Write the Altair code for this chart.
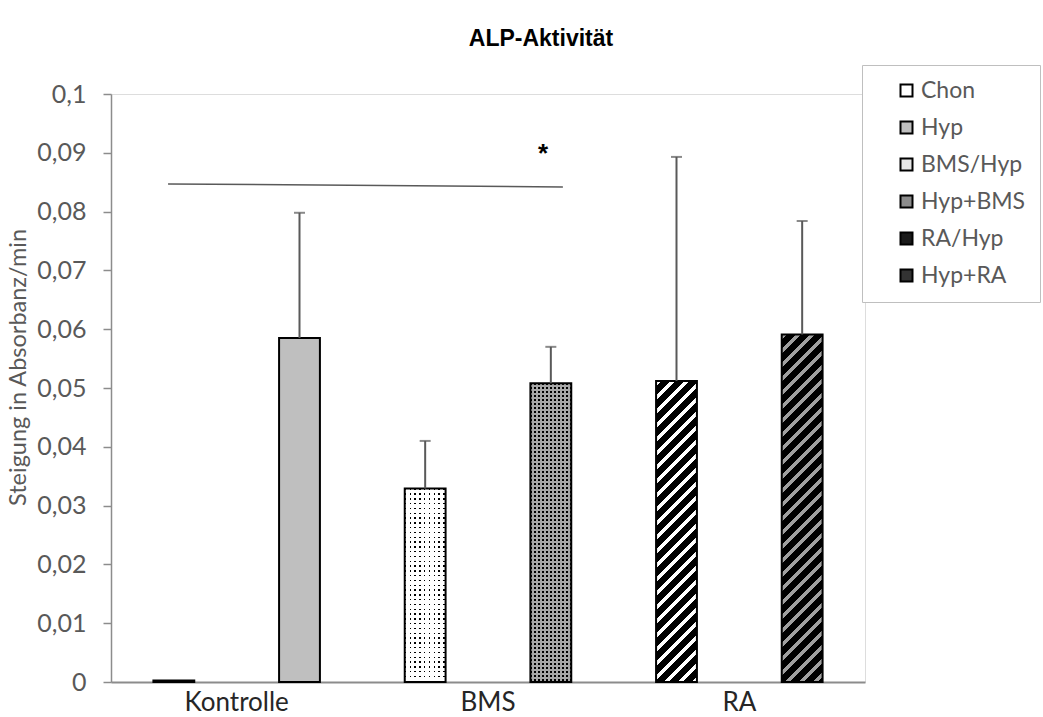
import altair as alt
import pandas as pd

# ---------------- data ----------------
categories = ["Kontrolle", "Kontrolle", "BMS", "BMS", "RA", "RA"]
series = ["Chon", "Hyp", "BMS/Hyp", "Hyp+BMS", "RA/Hyp", "Hyp+RA"]
slots = ["1", "2", "1", "2", "1", "2"]
means = [0.00025, 0.0585, 0.0329, 0.0508, 0.0512, 0.0591]
errors = [0.0, 0.0213, 0.0081, 0.0062, 0.0381, 0.0193]
cat_order = ["Kontrolle", "BMS", "RA"]
y_ticks = [0, 0.01, 0.02, 0.03, 0.04, 0.05, 0.06, 0.07, 0.08, 0.09, 0.1]
sig_x = [0.227, 1.798]
sig_y = [0.0847, 0.0842]
star_x = [1.719]
star_y = [0.0885]

df = pd.DataFrame({"cat": categories, "series": series, "slot": slots,
                   "mean": means, "err": errors})
df["top"] = df["mean"] + df["err"]
sig_df = pd.DataFrame({"x": sig_x, "y": sig_y})
star_df = pd.DataFrame({"x": star_x, "y": star_y, "t": ["*"]})

# ---------------- layout ----------------
PLOT_W, PLOT_H, Y_MAX = 754, 588, 0.1
P_IN, P_OUT = 0.675, 0.3375
band = PLOT_W / 3
step = band / (2 - P_IN + 2 * P_OUT)
BAR_W = step * (1 - P_IN)

FONT = "Lato"
GRAY_TXT = "#595959"
AXIS_GRAY = "#8c8c8c"
CLEAR = "rgba(255,255,255,0)"


def bar_h(s):
    return means[series.index(s)] / Y_MAX * PLOT_H


def stripe_stops(length, period, duty, c_on, c_off):
    stops = []
    pos = 0.0
    while pos < length:
        a = pos / length
        b = min((pos + duty * period) / length, 1.0)
        c = min((pos + period) / length, 1.0)
        stops += [{"offset": round(a, 5), "color": c_on},
                  {"offset": round(b, 5), "color": c_on},
                  {"offset": round(b, 5), "color": c_off},
                  {"offset": round(c, 5), "color": c_off}]
        pos += period
    return stops


def rows_grad(h, period, dot, bg):
    return {"gradient": "linear", "x1": 0, "y1": 0, "x2": 0, "y2": 1,
            "stops": stripe_stops(h, period, dot / period, CLEAR, bg)}


def cols_grad(w, period, dot, bg):
    return {"gradient": "linear", "x1": 0, "y1": 0, "x2": 1, "y2": 0,
            "stops": stripe_stops(w, period, dot / period, CLEAR, bg)}


def diag_grad(w, h, period, duty, c_on, c_off):
    c = (w + h) * w * h / (w * w + h * h)
    return {"gradient": "linear", "x1": 0, "y1": 0,
            "x2": round(c / h, 5), "y2": round(c / w, 5),
            "stops": stripe_stops(w + h, period, duty, c_on, c_off)}


# ---------------- encodings ----------------
x_enc = alt.X("cat:N", sort=cat_order, title=None,
              scale=alt.Scale(paddingInner=0, paddingOuter=0),
              axis=alt.Axis(labelFont=FONT, labelFontSize=26, labelColor="#262626",
                            labelPadding=7, ticks=False, domainColor=AXIS_GRAY,
                            domainWidth=2, labelAngle=0))
xoff = alt.XOffset("slot:N", scale=alt.Scale(paddingInner=P_IN, paddingOuter=P_OUT))
y_scale = alt.Scale(domain=[0, Y_MAX], nice=False, zero=True)
y_axis = alt.Axis(values=y_ticks, grid=False, labelFont=FONT, labelFontSize=25,
                  labelColor=GRAY_TXT, labelPadding=17, tickSize=8, tickColor=AXIS_GRAY,
                  tickWidth=1.5, domainColor=AXIS_GRAY, domainWidth=1.5,
                  labelExpr="replace(format(datum.value, '.2~f'), '.', ',')",
                  titleFont=FONT, titleFontSize=23.5, titleFontWeight="normal",
                  titleColor=GRAY_TXT, titleX=-93, titleY=273, titleAngle=270,
                  titleBaseline="middle", titleAlign="center")
Y_TITLE = "Steigung in Absorbanz/min"


def y_of(field):
    return alt.Y(f"{field}:Q", scale=y_scale, axis=y_axis, title=Y_TITLE)


legend_colors = ["#ffffff", "#bfbfbf", "#e6e6e6", "#8c8c8c", "#1a1a1a", "#333333"]

base = alt.Chart(df).mark_bar(strokeWidth=0).encode(
    x=x_enc, xOffset=xoff, y=y_of("mean"),
    color=alt.Color("series:N",
                    scale=alt.Scale(domain=series, range=legend_colors),
                    legend=alt.Legend(orient="none", legendX=751, legendY=-29,
                                      title=None, padding=14, symbolOffset=19,
                                      symbolType="square", symbolSize=144,
                                      symbolStrokeColor="black", symbolStrokeWidth=2,
                                      labelFont=FONT, labelFontSize=23,
                                      labelColor=GRAY_TXT, labelOffset=3,
                                      rowPadding=13, fillColor="white",
                                      strokeColor="#bfbfbf")),
)


def pattern_layer(names, fill):
    return alt.Chart(df).transform_filter(
        alt.FieldOneOfPredicate(field="series", oneOf=names)
    ).mark_bar(fill=fill, strokeWidth=0).encode(x=x_enc, xOffset=xoff, y=y_of("mean"))


bar_layers = [base]
# dotted bars: black base, then rows & columns of background colour leaving dots
bar_layers.append(pattern_layer(["BMS/Hyp", "Hyp+BMS"], "black"))
for s, bg, per, dot in [("BMS/Hyp", "#ffffff", 4.8, 1.4), ("Hyp+BMS", "#a6a6a6", 4.0, 1.5)]:
    bar_layers.append(pattern_layer([s], rows_grad(bar_h(s), per, dot, bg)))
    bar_layers.append(pattern_layer([s], cols_grad(BAR_W, per, dot, bg)))
# hatched bars
for s, c_on in [("RA/Hyp", "#ffffff"), ("Hyp+RA", "#a0a0a0")]:
    bar_layers.append(pattern_layer([s], diag_grad(BAR_W, bar_h(s), 14, 0.4, c_on, "black")))

outline = alt.Chart(df).mark_bar(fill="transparent", stroke="black", strokeWidth=2).encode(
    x=x_enc, xOffset=xoff, y=y_of("mean"))
bar_layers.append(outline)

err_rule = alt.Chart(df).transform_filter(alt.datum.err > 0).mark_rule(
    color=GRAY_TXT, strokeWidth=2).encode(x=x_enc, xOffset=xoff, y=y_of("mean"), y2="top:Q")
err_cap = alt.Chart(df).transform_filter(alt.datum.err > 0).mark_tick(
    color=GRAY_TXT, size=11, thickness=2).encode(x=x_enc, xOffset=xoff, y=y_of("top"))
bar_layers += [err_rule, err_cap]

bars = alt.layer(*bar_layers)

ann_x = alt.X("x:Q", scale=alt.Scale(domain=[0, 3], nice=False, zero=False), axis=None)
sig = alt.Chart(sig_df).mark_line(color="#595959", strokeWidth=1.5).encode(
    x=ann_x, y=y_of("y"))
star = alt.Chart(star_df).mark_text(font="Liberation Sans", fontSize=26, fontWeight="bold",
                                    color="black", baseline="alphabetic", align="center").encode(
    x=ann_x, y=y_of("y"), text="t:N")
ann = alt.layer(sig, star)

chart = alt.layer(bars, ann).resolve_scale(x="independent").properties(
    width=PLOT_W, height=PLOT_H,
    autosize=alt.AutoSizeParams(type="none"),
    padding={"left": 111, "top": 94, "right": 178, "bottom": 35},
    title=alt.TitleParams("ALP-Aktivität", font="Liberation Sans", fontSize=23,
                          fontWeight="bold", color="black", anchor="middle", dx=53,
                          offset=14),
).configure_view(stroke=None).configure(background="white")

chart.save("out.html", embed_options={"renderer": "svg", "actions": False})
